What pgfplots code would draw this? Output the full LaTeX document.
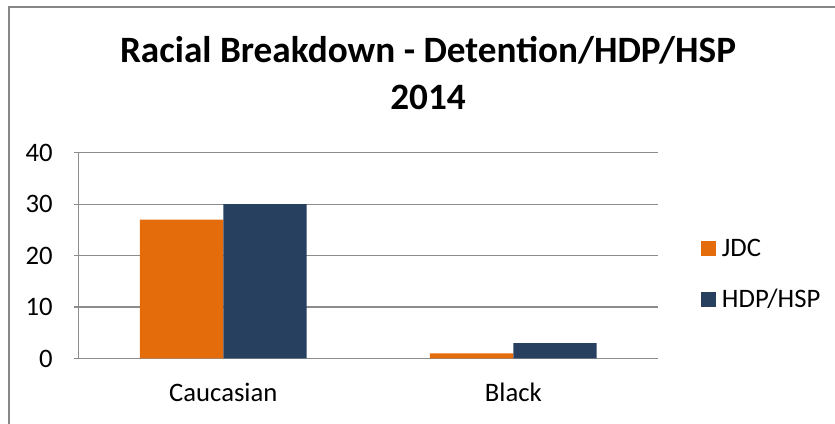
\documentclass[border=0pt]{standalone}
\usepackage{pgfplots}
\pgfplotsset{compat=1.18}
\usepackage{fontspec}
\setmainfont{Carlito}
\definecolor{jdc}{HTML}{E46C0A}
\definecolor{hdp}{HTML}{27405F}
\definecolor{gridc}{HTML}{8C8C8C}
\definecolor{borderc}{HTML}{878787}
\begin{document}
\begin{tikzpicture}[x=0.75pt,y=0.75pt]
\useasboundingbox (0,0) rectangle (835,424);
\draw[borderc, line width=1.3pt] (9,0) -- (9,417) -- (835,417);
\node[anchor=base, font=\fontsize{27.9}{32}\selectfont\bfseries] at (428,361) {Racial Breakdown - Detention/HDP/HSP};
\node[anchor=base, font=\fontsize{27.9}{32}\selectfont\bfseries] at (428,314) {2014};
\begin{axis}[
  at={(58.725pt,49.125pt)}, anchor=south west,
  scale only axis, width=435pt, height=154.35pt,
  ymin=0, ymax=40, ytick={0,10,20,30,40},
  xmin=-0.5, xmax=1.5, xtick={0,1}, xticklabels={Caucasian,Black},
  ybar=0pt, bar width=62.5pt,
  axis x line*=bottom, axis y line*=left,
  axis line style={gridc, line width=0.9pt},
  ymajorgrids, grid style={gridc, line width=0.9pt},
  major tick length=3pt, tick align=outside,
  xtick style={draw=none}, ytick style={gridc, line width=0.9pt},
  /pgf/number format/assume math mode=true,
  ticklabel style={font=\fontsize{20}{24}\selectfont},
  yticklabel style={xshift=-12.7pt},
  xticklabel style={yshift=-12pt},
  legend style={at={(1.0736,0.408)}, anchor=west, draw=none, fill=none,
    inner sep=0pt, outer sep=0pt, font=\fontsize{20}{24}\selectfont,
    row sep=23pt, nodes={inner xsep=4.5pt, inner ysep=0pt},
    /tikz/every even column/.append style={column sep=0pt}},
  legend cell align=left,
  legend image code/.code={\fill[#1] (0pt,-5.6pt) rectangle (11.25pt,5.6pt);},
]
\addplot[fill=jdc, draw=none] coordinates {(0,27) (1,1)};
\addplot[fill=hdp, draw=none] coordinates {(0,30) (1,3)};
\legend{JDC, HDP/HSP}
\end{axis}
\end{tikzpicture}
\end{document}
